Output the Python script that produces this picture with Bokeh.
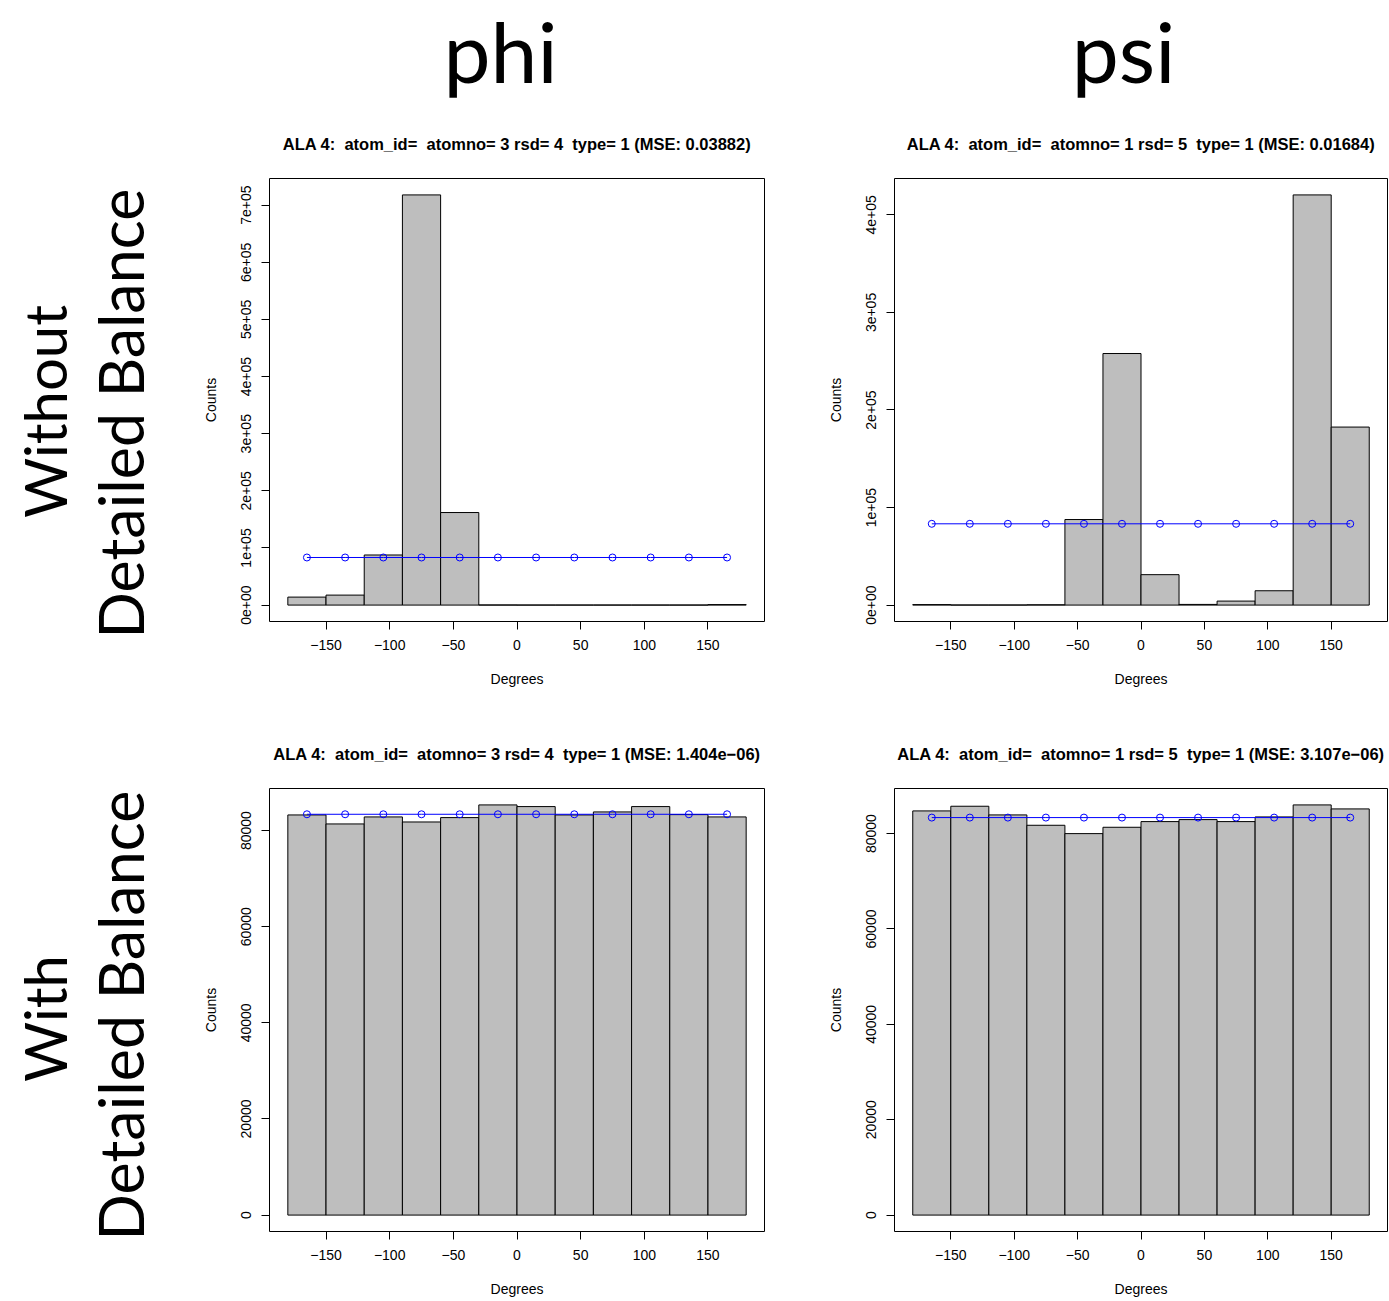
import math
from bokeh.plotting import figure
from bokeh.layouts import column, row
from bokeh.models import Range1d, FixedTicker
from bokeh.core.properties import value
from bokeh.embed import file_html
from bokeh.resources import INLINE

# ---- data ----
bin_edges = [-180, -150, -120, -90, -60, -30, 0, 30, 60, 90, 120, 150, 180]
bin_mids = [-165, -135, -105, -75, -45, -15, 15, 45, 75, 105, 135, 165]

phi_without = [14000, 17500, 87700, 718000, 162000, 200, 100, 100, 100, 100, 100, 900]
psi_without = [500, 100, 100, 300, 87700, 257900, 31200, 700, 4100, 14700, 420500, 182500]
phi_with = [83250, 81380, 82840, 81790, 82700, 85340, 84990, 83250, 83880, 84990, 83320, 82840]
psi_with = [84760, 85740, 83920, 81750, 80000, 81330, 82520, 82940, 82520, 83500, 86020, 85180]

expected_phi_without = [83333, 83333, 83333, 83333, 83333, 83333, 83333, 83333, 83333, 83333, 83333, 83333]
expected_psi_without = [83333, 83333, 83333, 83333, 83333, 83333, 83333, 83333, 83333, 83333, 83333, 83333]
expected_phi_with = [83390, 83390, 83390, 83390, 83390, 83390, 83390, 83390, 83390, 83390, 83390, 83390]
expected_psi_with = [83360, 83360, 83360, 83360, 83360, 83360, 83360, 83360, 83360, 83360, 83360, 83360]

x_ticks = [-150, -100, -50, 0, 50, 100, 150]
x_tick_labels = ["\u2212150", "\u2212100", "\u221250", "0", "50", "100", "150"]

sci_ticks_phi = [0, 100000, 200000, 300000, 400000, 500000, 600000, 700000]
sci_labels_phi = ["0e+00", "1e+05", "2e+05", "3e+05", "4e+05", "5e+05", "6e+05", "7e+05"]
sci_ticks_psi = [0, 100000, 200000, 300000, 400000]
sci_labels_psi = ["0e+00", "1e+05", "2e+05", "3e+05", "4e+05"]
lin_ticks = [0, 20000, 40000, 60000, 80000]
lin_labels = ["0", "20000", "40000", "60000", "80000"]

NB = "\u00a0"
titles = [
    f"ALA 4:{NB} atom_id={NB} atomno= 3 rsd= 4{NB} type= 1 (MSE: 0.03882)",
    f"ALA 4:{NB} atom_id={NB} atomno= 1 rsd= 5{NB} type= 1 (MSE: 0.01684)",
    f"ALA 4:{NB} atom_id={NB} atomno= 3 rsd= 4{NB} type= 1 (MSE: 1.404e\u221206)",
    f"ALA 4:{NB} atom_id={NB} atomno= 1 rsd= 5{NB} type= 1 (MSE: 3.107e\u221206)",
]
col_titles = ["phi", "psi"]
row_first = ["Without", "With"]
row_second = ["Detailed Balance", "Detailed Balance"]

FONT = "Liberation Sans"


def panel(title, counts, expected, yticks, ylabels, bl, br, bt, bb, fw, fh, standoff):
    ymax = max(counts)
    xpad = (bin_edges[-1] - bin_edges[0]) * 0.04
    p = figure(
        width=bl + fw + br, height=bt + fh + bb,
        x_range=Range1d(bin_edges[0] - xpad, bin_edges[-1] + xpad),
        y_range=Range1d(-0.04 * ymax, 1.04 * ymax),
        output_backend="svg", toolbar_location=None,
        min_border_left=bl, min_border_right=br, min_border_top=bt, min_border_bottom=bb,
    )
    p.xgrid.visible = False
    p.ygrid.visible = False
    p.outline_line_color = "black"
    p.outline_line_width = 1
    p.outline_line_alpha = 1
    p.background_fill_color = "white"
    p.border_fill_color = "white"

    p.quad(left=bin_edges[:-1], right=bin_edges[1:], bottom=0, top=counts,
           fill_color="#BEBEBE", line_color="black", line_width=1)
    p.line(bin_mids, expected, line_color="blue", line_width=1)
    p.scatter(bin_mids, expected, marker="circle", size=7, fill_color=None,
              line_color="blue", line_width=1)

    p.title.text = title
    p.title.align = "center"
    p.title.text_font = FONT
    p.title.text_font_style = "bold"
    p.title.text_font_size = "16.5px"
    p.title.text_color = "black"
    p.title.standoff = standoff

    for ax in (p.xaxis[0], p.yaxis[0]):
        ax.axis_line_color = None
        ax.major_tick_line_color = "black"
        ax.major_tick_in = 0
        ax.major_tick_out = 8
        ax.minor_tick_line_color = None
        ax.major_label_text_font = FONT
        ax.major_label_text_font_size = "14px"
        ax.major_label_text_color = "black"
        ax.axis_label_text_font = FONT
        ax.axis_label_text_font_size = "14px"
        ax.axis_label_text_font_style = "normal"
        ax.axis_label_text_color = "black"
        ax.major_label_standoff = 10

    p.xaxis.ticker = FixedTicker(ticks=x_ticks)
    p.xaxis.major_label_overrides = {t: l for t, l in zip(x_ticks, x_tick_labels)}
    p.xaxis.axis_label = "Degrees"
    p.xaxis.axis_label_standoff = 18

    p.yaxis.ticker = FixedTicker(ticks=yticks)
    p.yaxis.major_label_overrides = {t: l for t, l in zip(yticks, ylabels)}
    p.yaxis.major_label_orientation = "parallel"
    p.yaxis.axis_label = "Counts"
    p.yaxis.axis_label_standoff = 20
    return p


FW1, FW2, FH = 495, 493, 443
HEADER_H = 106

p1 = panel(titles[0], phi_without, expected_phi_without, sci_ticks_phi, sci_labels_phi, 99, 36, 72, 89, FW1, FH, 52)
p2 = panel(titles[1], psi_without, expected_psi_without, sci_ticks_psi, sci_labels_psi, 94, 2, 72, 89, FW2, FH, 52)
p3 = panel(titles[2], phi_with, expected_phi_with, lin_ticks, lin_labels, 99, 36, 78, 70, FW1, FH, 52)
p4 = panel(titles[3], psi_with, expected_psi_with, lin_ticks, lin_labels, 94, 2, 78, 70, FW2, FH, 52)


def blank(w, h, xr, yr):
    f = figure(width=w, height=h, x_range=xr, y_range=yr, output_backend="svg",
               toolbar_location=None, min_border=0)
    f.axis.visible = False
    f.xgrid.visible = False
    f.ygrid.visible = False
    f.outline_line_color = None
    f.background_fill_color = "white"
    f.border_fill_color = "white"
    return f


header = blank(1389, HEADER_H, Range1d(0, 1389), Range1d(HEADER_H, 0))
header.text(x=[500, 1123], y=[50, 50], text=col_titles, text_font=value("Lato"),
            text_font_size="84px", text_align="center", text_baseline="middle",
            text_color="black")

side = blank(170, 1301 - HEADER_H, Range1d(0, 170), Range1d(1301, HEADER_H))
side.text(x=[44, 44], y=[411, 1018], text=row_first,
          angle=math.pi / 2, text_font=value("Lato"), text_font_size="58px",
          text_align="center", text_baseline="alphabetic", text_color="black")
side.text(x=[120, 120], y=[413, 1015], text=row_second,
          angle=math.pi / 2, text_font=value("Lato"), text_font_size="61px",
          text_align="center", text_baseline="alphabetic", text_color="black")

layout = column(header, row(side, column(row(p1, p2), row(p3, p4))))

open("out.html", "w").write(file_html(layout, INLINE))
